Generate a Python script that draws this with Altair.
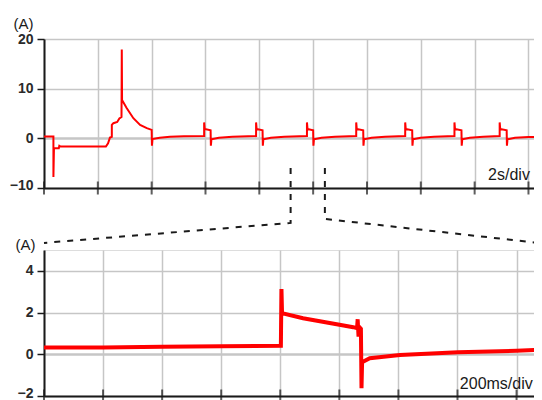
import altair as alt
import pandas as pd

# ---------------- data ----------------
# upper trace: time (s), current (A), 2 s/div
top_time = [0.00, 0.35, 0.35, 0.37, 0.55, 0.57, 0.62, 2.30, 2.38, 2.45, 2.52, 2.52,
            2.58, 2.72, 2.80, 2.88, 2.89, 2.90, 3.07, 3.32, 3.57, 3.82, 4.00, 4.01,
            4.03, 4.30, 4.68, 5.20, 5.95,
            5.95, 5.97, 6.19, 6.20, 6.22, 6.50, 7.00, 7.88,
            7.88, 7.90, 8.12, 8.13, 8.15, 8.43, 8.93, 9.77,
            9.77, 9.79, 10.00, 10.01, 10.03, 10.31, 10.81, 11.60,
            11.60, 11.62, 11.86, 11.87, 11.89, 12.17, 12.67, 13.42,
            13.42, 13.44, 13.68, 13.69, 13.71, 13.99, 14.49, 15.25,
            15.25, 15.27, 15.51, 15.52, 15.54, 15.82, 16.32, 16.93,
            16.93, 16.95, 17.19, 17.20, 17.22, 17.50, 18.00, 18.80]
top_current = [0.36, 0.36, -7.8, -2.0, -2.0, -1.5, -1.65, -1.65, -1.0, 0.15, 0.3, 2.7,
               3.05, 3.3, 4.0, 4.3, 17.9, 7.7, 6.1, 4.05, 2.7, 2.05, 1.7, -1.5,
               -0.15, 0.1, 0.3, 0.4, 0.45,
               3.2, 1.9, 1.6, -1.5, -0.2, 0.1, 0.3, 0.45,
               3.2, 1.9, 1.6, -1.5, -0.2, 0.1, 0.3, 0.45,
               3.2, 1.9, 1.6, -1.5, -0.2, 0.1, 0.3, 0.45,
               3.2, 1.9, 1.6, -1.5, -0.2, 0.1, 0.3, 0.45,
               3.2, 1.9, 1.6, -1.5, -0.2, 0.1, 0.3, 0.45,
               3.2, 1.9, 1.6, -1.5, -0.2, 0.1, 0.3, 0.45,
               3.2, 1.9, 1.6, -1.5, -0.2, 0.1, 0.25, 0.3]

# lower (zoomed) trace: time (s), current (A), 200 ms/div
zoom_time = [0.000, 0.200, 0.400, 0.600, 0.802, 0.804, 0.806, 0.877, 0.991, 1.047,
             1.060, 1.062, 1.065, 1.068, 1.073, 1.075, 1.077, 1.103, 1.205, 1.402,
             1.600, 1.720]
zoom_current = [0.32, 0.33, 0.36, 0.38, 0.41, 3.13, 1.97, 1.73, 1.44, 1.30,
                1.25, 1.68, 0.85, 1.30, 1.22, -1.63, -0.38, -0.19, -0.03, 0.10,
                0.17, 0.25]

top_divisions = [0, 2, 4, 6, 8, 10, 12, 14, 16, 18]
zoom_divisions = [0, 0.2, 0.4, 0.6, 0.8, 1.0, 1.2, 1.4, 1.6]
top_y_values = [-10, -5, 0, 5, 10, 15, 20]
zoom_y_values = [-2, -1, 0, 1, 2, 3, 4, 5]

# zoom connector (dashed) lines, in the lower panel's units
connector_side = ["left", "left", "left", "right", "right", "right"]
connector_time = [0.835, 0.835, 0.0, 0.951, 0.951, 1.700]
connector_current = [8.93, 6.30, 5.34, 8.93, 6.49, 5.30]

top_note = "2s/div"
zoom_note = "200ms/div"

# ---------------- styling ----------------
RED = "#ff0000"
INK = "#1a1a1a"
FONT = "Liberation Sans"
GRID = "#c6c6c6"
GRID_MINOR = "#cfcfcf"

top_df = pd.DataFrame({"t": top_time, "i": top_current, "k": range(len(top_time))})
zoom_df = pd.DataFrame({"t": zoom_time, "i": zoom_current, "k": range(len(zoom_time))})
conn_df = pd.DataFrame({"side": connector_side, "t": connector_time,
                        "i": connector_current, "k": range(len(connector_time))})


def y_axis(values, major, title_x, title_y, bottom_value):
    minor_test = f"datum.value % {major} !== 0"
    return alt.Axis(
        values=values,
        labelExpr=f"datum.value % {major} === 0 ? datum.label : ''",
        title="(A)", titleAngle=0, titleAlign="left", titleBaseline="alphabetic",
        titleX=title_x, titleY=title_y, titleFont=FONT, titleFontSize=15,
        titleFontWeight="normal", titleColor=INK,
        labelFont=FONT, labelFontSize=14, labelFontWeight="bold", labelColor="#2a2a2a",
        labelPadding=4,
        labelOffset={"condition": {"test": f"datum.value === {bottom_value}", "value": -3}, "value": 0},
        domainColor=INK, domainWidth=2,
        tickColor=INK, tickWidth=1.5,
        tickSize={"condition": {"test": minor_test, "value": 4}, "value": 7},
        gridColor={"condition": {"test": minor_test, "value": GRID_MINOR}, "value": GRID},
        gridDash={"condition": {"test": minor_test, "value": [2, 2]}, "value": []},
        gridWidth={"condition": {"test": "datum.value === 0", "value": 2.5}, "value": 1.5},
    )


def x_axis(values):
    return alt.Axis(values=values, labels=False, ticks=False, title=None,
                    domainColor=INK, domainWidth=2, gridColor=GRID, gridWidth=1.5)


def panel(df, divisions, xdom, ydom, yvals, major, tx, ty, width, height,
          line_w, note, note_t, note_i, bottom_label, extra=None):
    xs = alt.Scale(domain=xdom, nice=False, zero=False)
    ys = alt.Scale(domain=ydom, nice=False, zero=False)
    base = alt.Chart(df).mark_line(color=RED, strokeWidth=line_w, strokeJoin="miter").encode(
        x=alt.X("t:Q", scale=xs, axis=x_axis(divisions)),
        y=alt.Y("i:Q", scale=ys, axis=y_axis(yvals, major, tx, ty, bottom_label)),
        order="k:Q",
    )
    ticks = alt.Chart(pd.DataFrame({"t": divisions, "b": [ydom[0]] * len(divisions)})).mark_tick(
        orient="vertical", size=13, thickness=2, color=INK
    ).encode(x=alt.X("t:Q", scale=xs), y=alt.Y("b:Q", scale=ys))
    text = alt.Chart(pd.DataFrame({"t": [note_t], "i": [note_i], "s": [note]})).mark_text(
        align="left", baseline="alphabetic", font=FONT, fontSize=16, color=INK
    ).encode(x=alt.X("t:Q", scale=xs), y=alt.Y("i:Q", scale=ys), text="s:N")
    layers = [base, ticks, text]
    if extra is not None:
        layers.append(extra.encode(x=alt.X("t:Q", scale=xs), y=alt.Y("i:Q", scale=ys)))
    return alt.layer(*layers).properties(width=width, height=height)


# plot areas run past the right edge of the page, as in the reference (clipped there)
top = panel(top_df, top_divisions, [0, 18.8], [-10, 20], top_y_values, 10,
            -31, -11, 506, 149, 2, top_note, 16.5, -8.35, -10)

connectors = alt.Chart(conn_df).mark_line(
    color=INK, strokeWidth=2, strokeDash=[6, 7]
).encode(detail="side:N", order="k:Q")

bottom = panel(zoom_df, zoom_divisions, [0, 1.72], [-2, 5], zoom_y_values, 2,
               -29, -1, 508, 146, 4, zoom_note, 1.408, -1.68, -2, extra=connectors)

chart = alt.vconcat(top, bottom, spacing=62, bounds="flush").properties(
    autosize=alt.AutoSizeParams(type="none"),
    padding={"left": 36, "top": 31, "right": 490, "bottom": 361},
).configure_view(stroke=None).configure(background="white")

chart.save("out.html", embed_options={"renderer": "svg", "actions": False})
